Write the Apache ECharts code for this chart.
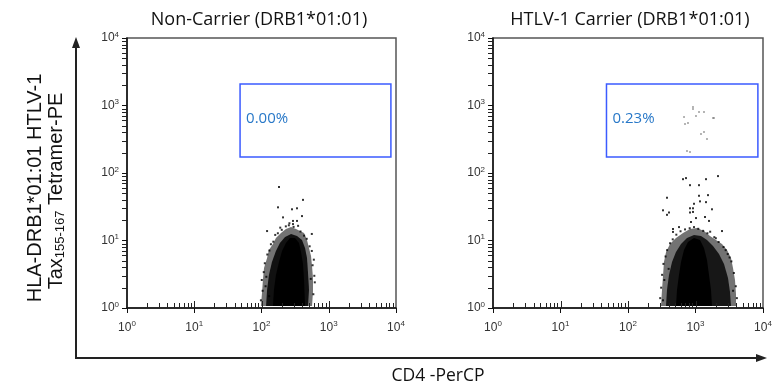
<!DOCTYPE html>
<html><head><meta charset="utf-8">
<script src="https://cdn.jsdelivr.net/npm/echarts@6/dist/echarts.min.js"></script>
<style>html,body{margin:0;padding:0;background:#fff}#c{width:782px;height:390px}</style>
</head><body><div id="c"></div>
<script>
// ---- data (fluorescence intensities) ----
const panelTitles = ['Non-Carrier (DRB1*01:01)', 'HTLV-1 Carrier (DRB1*01:01)'];
const tickExponents = [0, 1, 2, 3, 4];
const minorMultipliers = [2, 3, 4, 5, 6, 7, 8, 9];
const gateX = [48, 8400];
const gateY = [173, 2080];
const gateLabels = ['0.00%', '0.23%'];

// event cloud outlines: outer sparse zone, mid zone, solid core
const nonCarrierOuter = [[98,1.07],[102,1.73],[105,2.6],[109,3.91],[121,5.51],[129,7.23],[148,8.87],[164,10.89],[195,12.92],[231,14.81],[275,15.85],[326,14.81],[374,13.83],[429,12.92],[475,10.17],[508,7.74],[545,5.89],[564,4.19],[583,2.78],[583,1.73],[564,1.07]];
const nonCarrierMid = [[117,1.07],[121,1.85],[129,3.08],[143,4.80],[164,6.99],[188,9.18],[224,11.27],[275,12.49],[337,11.66],[400,10.17],[444,7.74],[475,5.51],[491,3.41],[509,1.85],[491,1.07]];
const nonCarrierCore = [[148,1.07],[153,1.85],[164,3.08],[182,4.80],[202,6.99],[231,9.18],[265,10.89],[315,10.89],[361,9.18],[387,6.75],[414,4.49],[429,2.60],[444,1.07]];
const nonCarrierSparse = [
  [182,62],[414,40],[176,31],[284,29],[337,30],[209,22],[294,19.5],[337,19.5],[294,17.5],[121,13.8],[400,23],
  [98,1.3],[104,1.8],[101,2.6],[108,3.4],[112,4.6],[118,2.9],[122,6.2],[131,7.1],[138,8.8],[150,9.6],[160,12.1],
  [175,12.8],[190,15.5],[230,16.2],[255,16.8],[300,15.9],[350,16.5],[380,13.6],[430,11.8],[470,10.6],[520,8.2],
  [560,7.0],[600,5.2],[575,4.3],[610,3.0],[590,1.6],[620,2.4],[540,2.7],[130,1.5],[115,2.1],[560,12.5],[200,14.4],[260,18.0]
];

const carrierOuter = [[308,1.07],[319,1.85],[330,2.98],[341,4.80],[366,6.75],[419,8.87],[514,10.89],[653,12.92],[829,14.81],[1052,15.3],[1336,13.83],[1640,11.66],[2012,10.17],[2470,8.87],[2930,7.23],[3357,5.51],[3594,3.91],[3847,2.60],[3981,1.61],[3981,1.07]];
const carrierMid = [[366,1.07],[378,1.85],[405,3.08],[449,4.80],[514,6.75],[610,8.87],[748,10.89],[950,12.06],[1206,11.66],[1480,10.17],[1816,8.29],[2229,6.31],[2644,4.49],[3031,2.78],[3245,1.73],[3357,1.07]];
const carrierCore = [[514,1.07],[532,1.85],[569,3.08],[610,4.80],[675,7.23],[774,9.50],[950,10.89],[1166,10.17],[1336,7.74],[1480,5.14],[1585,3.08],[1697,1.85],[1755,1.07]];
const carrierSparse = [
  [653,81],[723,84],[829,66],[1127,66],[1431,81],[2155,90],[378,43],[1127,46],[1532,47],[1166,38],[950,35],[1431,37],
  [330,28],[405,26],[378,24],[829,30],[918,30],[1754,29],[829,26],[918,26.5],[1017,21.5],[1383,22.3],[858,18.8],
  [1585,19.5],[464,14.8],[570,15.8],[464,13.4],[2470,13.8],
  [300,1.4],[310,2.0],[320,3.1],[335,4.5],[345,2.6],[360,5.8],[380,7.2],[420,9.1],[460,10.4],[520,12.2],[600,13.7],
  [700,14.6],[820,15.2],[950,15.8],[1100,14.9],[1300,13.9],[1500,12.8],[1900,11.2],[2200,9.5],[2600,8.0],[3000,6.3],
  [3400,4.9],[3700,3.3],[3950,2.1],[4100,1.4],[3600,1.8],[2800,7.2],[2000,10.8],[1650,13.5],[3200,5.6],[400,3.8],[330,1.3]
];
const carrierGatePoints = [[918,950],[918,887],[1127,801],[1336,801],[1017,699],[676,676],[1816,653],[1880,653],[774,550],[699,532],[1336,405],[1206,378],[1480,319],[748,212],[829,205]];

// ---- build ----
const L = Math.log10;
const font = '"Liberation Sans", Arial, sans-serif';
const sans = '"Open Sans", "Noto Sans", sans-serif';
const grids = [
  {left: 127, top: 38, width: 269, height: 270},
  {left: 493, top: 38, width: 270, height: 270}
];
const toLog = arr => arr.map(p => [L(p[0]), L(p[1])]);

function axis(gi, dir) {
  return {
    type: 'value', gridIndex: gi, min: 0, max: 4, interval: 1,
    axisLine: {show: true, onZero: false, lineStyle: {color: '#111', width: 1.5}},
    axisTick: {show: true, inside: false, length: 5, lineStyle: {color: '#111', width: 1}},
    splitLine: {show: false},
    axisLabel: {
      formatter: v => '10{s|' + v + '}',
      color: '#333', fontFamily: font, fontSize: 12, margin: dir === 'x' ? 12 : 8,
      rich: {s: {fontSize: 8, fontFamily: font, color: '#333', padding: [0, 0, 7, 0]}}
    }
  };
}

function polygonSeries(gi, outline, fill, z) {
  return {
    type: 'custom', xAxisIndex: gi, yAxisIndex: gi, silent: true, z: z,
    data: [[L(outline[0][0]), L(outline[0][1])]],
    renderItem: (params, api) => ({
      type: 'polygon',
      shape: {points: outline.map(p => api.coord([L(p[0]), L(p[1])]))},
      style: {fill: fill}
    })
  };
}

function gateSeries(gi) {
  return {
    type: 'custom', xAxisIndex: gi, yAxisIndex: gi, silent: true, z: 10,
    data: [[L(gateX[0]), L(gateY[0])]],
    renderItem: (params, api) => {
      const p0 = api.coord([L(gateX[0]), L(gateY[1])]);
      const p1 = api.coord([L(gateX[1]), L(gateY[0])]);
      return {type: 'group', children: [
        {type: 'rect', shape: {x: p0[0], y: p0[1], width: p1[0] - p0[0], height: p1[1] - p0[1]},
         style: {fill: 'none', stroke: '#3B5BFF', lineWidth: 1.5}},
        {type: 'text', x: p0[0] + 6, y: (p0[1] + p1[1]) / 2 - 2,
         style: {text: gateLabels[gi], fill: '#2878C8', fontSize: 15, fontFamily: sans, align: 'left', verticalAlign: 'middle'}}
      ]};
    }
  };
}

function scatter(gi, pts, color, size) {
  return {type: 'scatter', xAxisIndex: gi, yAxisIndex: gi, silent: true, z: 4,
    symbol: 'rect', symbolSize: size, itemStyle: {color: color}, data: toLog(pts)};
}

const baseGraphic = [
  {type: 'line', shape: {x1: 76, y1: 358, x2: 76, y2: 46}, style: {stroke: '#222', lineWidth: 2}},
  {type: 'polygon', shape: {points: [[76, 37], [72, 48], [80, 48]]}, style: {fill: '#222'}},
  {type: 'line', shape: {x1: 75, y1: 358, x2: 758, y2: 358}, style: {stroke: '#222', lineWidth: 2}},
  {type: 'polygon', shape: {points: [[767, 358], [756, 354], [756, 362]]}, style: {fill: '#222'}},
  {type: 'text', x: 259, y: 20, style: {text: panelTitles[0], fontSize: 18, fontFamily: sans, fill: '#111', align: 'center', verticalAlign: 'middle'}},
  {type: 'text', x: 630, y: 20, style: {text: panelTitles[1], fontSize: 18, fontFamily: sans, fill: '#111', align: 'center', verticalAlign: 'middle'}},
  {type: 'text', x: 438, y: 376, style: {text: 'CD4 -PerCP', fontSize: 17.5, fontFamily: sans, fill: '#111', align: 'center', verticalAlign: 'middle'}},
  {type: 'text', x: 35, y: 188, rotation: Math.PI / 2,
   style: {text: 'HLA-DRB1*01:01 HTLV-1', fontSize: 20, fontFamily: font, fill: '#111', align: 'center', verticalAlign: 'middle'}},
  {type: 'text', x: 56, y: 191, rotation: Math.PI / 2,
   style: {text: 'Tax{sub|155-167} Tetramer-PE', fontSize: 20, fontFamily: font, fill: '#111', align: 'center', verticalAlign: 'middle',
     rich: {sub: {fontSize: 13, fontFamily: font, fill: '#111', padding: [9, 0, 0, 0]}}}}
];

const option = {
  animation: false,
  backgroundColor: '#fff',
  grid: grids.map(g => Object.assign({show: true, borderColor: '#555', borderWidth: 1.5, backgroundColor: 'transparent'}, g)),
  xAxis: [axis(0, 'x'), axis(1, 'x')],
  yAxis: [axis(0, 'y'), axis(1, 'y')],
  series: [
    polygonSeries(0, nonCarrierOuter, 'rgba(0,0,0,0.55)', 2),
    polygonSeries(0, nonCarrierMid, 'rgba(0,0,0,0.85)', 2),
    polygonSeries(0, nonCarrierCore, '#000', 3),
    scatter(0, nonCarrierSparse, '#000', 2),
    gateSeries(0),
    polygonSeries(1, carrierOuter, 'rgba(0,0,0,0.55)', 2),
    polygonSeries(1, carrierMid, 'rgba(0,0,0,0.8)', 2),
    polygonSeries(1, carrierCore, '#000', 3),
    scatter(1, carrierSparse, '#000', 2),
    scatter(1, carrierGatePoints, '#666', 1.6),
    gateSeries(1)
  ],
  graphic: baseGraphic
};
const chart = echarts.init(document.getElementById('c'), null, {renderer: 'canvas'});
chart.setOption(option);

// log ticks: minor (2..9 in each decade) and inward major, placed through the axes' own scales
const minorPos = [];
tickExponents.slice(0, -1).forEach(k => minorMultipliers.forEach(m => minorPos.push(k + L(m))));
const tickGraphic = [];
const tickStyle = {stroke: '#222', lineWidth: 1};
[0, 1].forEach(gi => {
  const f = {xAxisIndex: gi, yAxisIndex: gi};
  minorPos.forEach(v => {
    const px = chart.convertToPixel(f, [v, 0]);
    const x = Math.round(px[0]) + 0.5;
    tickGraphic.push({type: 'line', silent: true, z: 100, shape: {x1: x, y1: px[1], x2: x, y2: px[1] - 5}, style: tickStyle});
    const py = chart.convertToPixel(f, [0, v]);
    const y = Math.round(py[1]) + 0.5;
    tickGraphic.push({type: 'line', silent: true, z: 100, shape: {x1: py[0], y1: y, x2: py[0] - 5, y2: y}, style: tickStyle});
  });
  tickExponents.slice(1, -1).forEach(v => {
    const px = chart.convertToPixel(f, [v, 0]);
    const x = Math.round(px[0]) + 0.5;
    tickGraphic.push({type: 'line', silent: true, z: 100, shape: {x1: x, y1: px[1], x2: x, y2: px[1] - 7}, style: tickStyle});
  });
});
chart.setOption({graphic: baseGraphic.concat(tickGraphic)});
</script>
</body></html>
